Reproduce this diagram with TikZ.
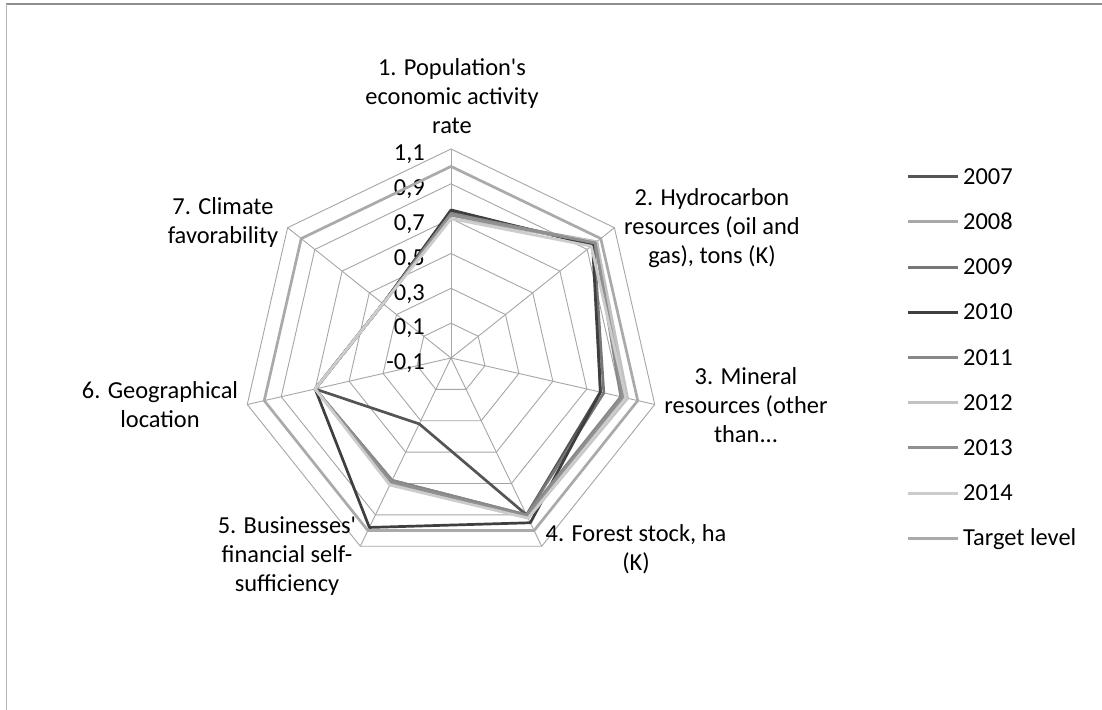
\documentclass[tikz,border=0pt]{standalone}
\usepackage{fontspec}
\setmainfont{Carlito}
\definecolor{gridgray}{HTML}{A6A6A6}
\definecolor{frametop}{HTML}{8E8E8E}
\definecolor{frameleft}{HTML}{B4B4B4}
\definecolor{c07}{HTML}{555555}
\definecolor{c08}{HTML}{A8A8A8}
\definecolor{c09}{HTML}{777777}
\definecolor{c10}{HTML}{3F3F3F}
\definecolor{c11}{HTML}{888888}
\definecolor{c12}{HTML}{C2C2C2}
\definecolor{c13}{HTML}{909090}
\definecolor{c14}{HTML}{CCCCCC}
\definecolor{ctg}{HTML}{AAAAAA}
% one closed series line over the seven axes
\newcommand{\radarline}[8]{%
  \draw[ser,#1] (90:{rv(#2)}) -- ({90-360/7}:{rv(#3)}) -- ({90-2*360/7}:{rv(#4)})
    -- ({90-3*360/7}:{rv(#5)}) -- ({90-4*360/7}:{rv(#6)}) -- ({90-5*360/7}:{rv(#7)})
    -- ({90-6*360/7}:{rv(#8)}) -- cycle;}
\begin{document}
\begin{tikzpicture}[x=1bp,y=1bp,
  declare function={rv(\v)=(\v+0.1)/1.2*209;},
  gridline/.style={draw=gridgray,line width=0.9bp},
  ser/.style={line width=2.7bp,line join=round},
  legline/.style={line width=3bp},
  lbl/.style={font=\fontsize{24.5}{29}\selectfont,inner sep=0pt,align=center,text=black}]
\useasboundingbox (0,0) rectangle (1102,710);
\fill[white] (0,0) rectangle (1102,710);
% chart frame
\coordinate (FL) at (6,705.5);
\coordinate (FR) at (1102,705.5);
\coordinate (FB) at (6,0);
\draw[frametop,line width=2bp] (FL) -- (FR);
\draw[frameleft,line width=1bp] (FL) -- (FB);

\begin{scope}[shift={(451,352)}]
  \coordinate (O) at (0,0);
  % rings
  \foreach \v in {0.1,0.3,0.5,0.7,0.9,1.1}
    \draw[gridline] (90:{rv(\v)}) \foreach \k in {1,...,6} { -- ({90-\k*360/7}:{rv(\v)}) } -- cycle;
  % spokes
  \foreach \k in {0,...,6} {
    \coordinate (V\k) at ({90-\k*360/7}:{rv(1.1)});
    \draw[gridline] (O) -- (V\k);
  }
  % value labels
  \foreach \v/\t [count=\i] in {1.1/{1,1},0.9/{0,9},0.7/{0,7},0.5/{0,5},0.3/{0,3},0.1/{0,1},-0.1/{-0,1}}
    \node[lbl,anchor=base east] (tick\i) at (-26,{rv(\v)-11.7}) {\t};
  % series
  \radarline{c07}{0.74}{0.95}{0.78}{0.90}{0.32}{0.70}{0.40}
  \radarline{c08}{0.72}{0.97}{0.92}{0.91}{0.70}{0.70}{0.40}
  \radarline{c09}{0.73}{0.95}{0.80}{0.90}{0.68}{0.70}{0.40}
  \radarline{c10}{0.75}{0.94}{0.78}{0.95}{0.98}{0.70}{0.40}
  \radarline{c11}{0.73}{0.96}{0.90}{0.90}{0.68}{0.70}{0.40}
  \radarline{c12}{0.70}{0.97}{0.94}{0.92}{0.70}{0.70}{0.40}
  \radarline{c13}{0.72}{0.96}{0.91}{0.91}{0.69}{0.70}{0.40}
  \radarline{c14}{0.70}{0.93}{0.93}{0.92}{0.71}{0.70}{0.40}
  \radarline{ctg}{1.0}{1.0}{1.0}{1.0}{1.0}{1.0}{1.0}
\end{scope}

% axis titles
\node[lbl] (ax1) at (452,614) {1. Population\textquotesingle s\\economic activity\\rate};
\node[lbl] (ax2) at (712,482) {2. Hydrocarbon\\resources (oil and\\gas), tons (K)};
\node[lbl] (ax3) at (746,305) {3. Mineral\\resources (other\\than...};
\node[lbl] (ax4) at (636,160.5) {4. Forest stock, ha\\(K)};
\node[lbl] (ax5) at (287,154) {5. Businesses\textquotesingle\\financial self-\\sufficiency};
\node[lbl] (ax6) at (160,305.5) {6. Geographical\\location};
\node[lbl] (ax7) at (223,487.5) {7. Climate\\favorability};

% legend
\foreach \lab/\col [count=\i] in {2007/c07,2008/c08,2009/c09,2010/c10,2011/c11,2012/c12,2013/c13,2014/c14,Target level/ctg} {
  \coordinate (LA\i) at (908,{533.3-45.2*(\i-1)});
  \coordinate (LB\i) at (958,{533.3-45.2*(\i-1)});
  \draw[legline,\col] (LA\i) -- (LB\i);
  \node[lbl,anchor=base west] (leg\i) at (963,{533.3-45.2*(\i-1)-7.7}) {\lab};
}
\end{tikzpicture}
\end{document}
